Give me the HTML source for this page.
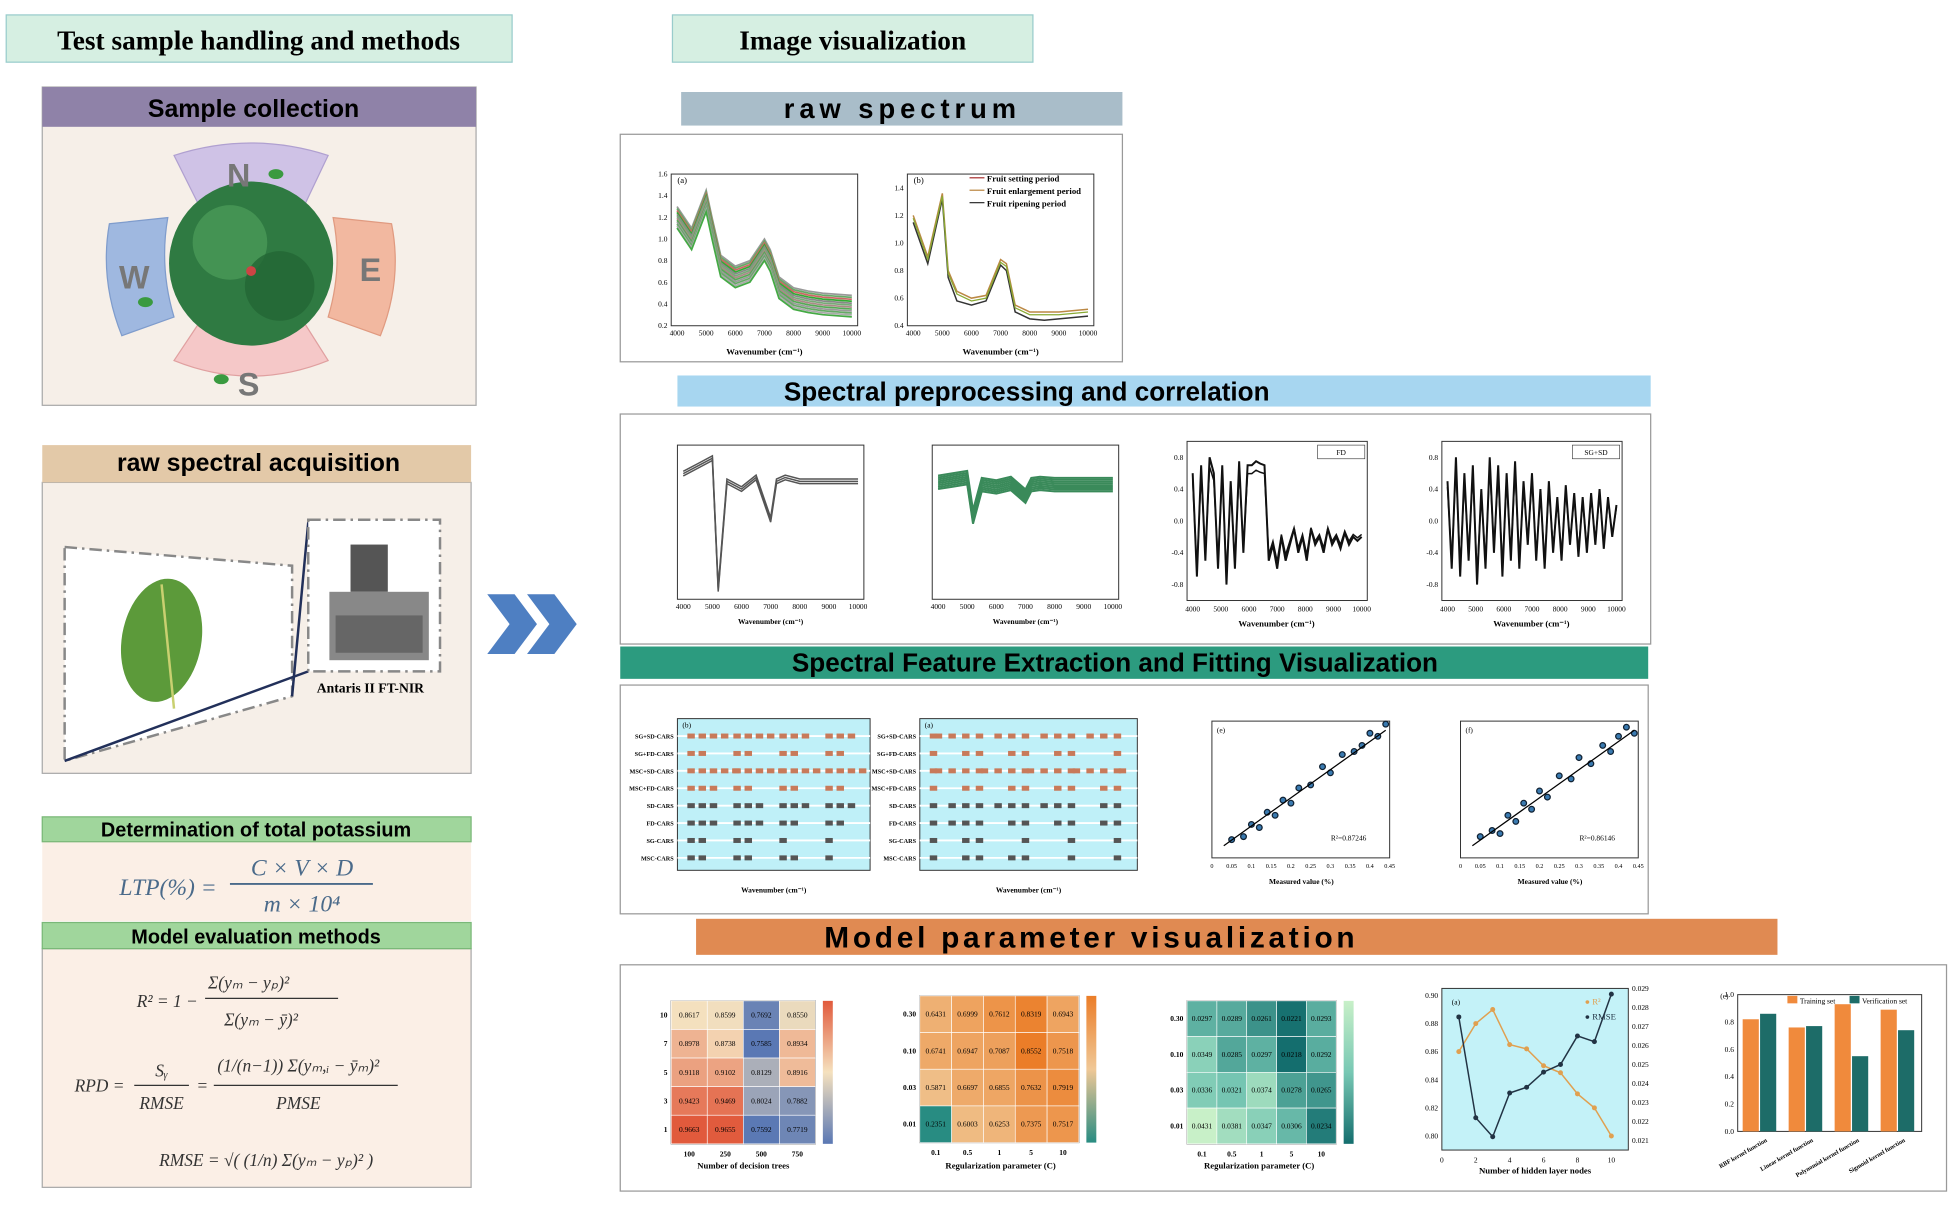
<!DOCTYPE html>
<html><head><meta charset="utf-8"><style>
html,body{margin:0;padding:0;background:#fff;}
svg{display:block;font-family:"Liberation Serif",serif;}
.h{font-family:"Liberation Sans",sans-serif;font-weight:bold;}
</style></head><body>
<svg id="s" width="1949" height="1206" viewBox="0 0 1568 970" preserveAspectRatio="none">
<rect width="1568" height="970" fill="#fff"/>
<g><rect x="5" y="12" width="407" height="38" fill="#d6efe2" stroke="#9cc" stroke-width="1"/><text x="208" y="40" text-anchor="middle" font-size="22" font-weight="bold">Test  sample  handling  and  methods</text></g>
<g><rect x="541" y="12" width="290" height="38" fill="#d6efe2" stroke="#9cc"/><text x="686" y="40" text-anchor="middle" font-size="22" font-weight="bold">Image visualization</text></g>

<g>
<rect x="34" y="70" width="349" height="256" fill="#f6efe8" stroke="#aaa"/>
<rect x="34" y="70" width="349" height="32" fill="#8f82a8"/>
<text class="h" x="204" y="94" text-anchor="middle" font-size="20">Sample collection</text>
<path d="M140 125 Q202 105 264 125 L245 165 Q202 150 160 165Z" fill="#cfc2e6" stroke="#b0a0d0"/>
<path d="M88 180 L135 175 Q128 215 140 255 L98 270 Q80 225 88 180Z" fill="#9fb8e0" stroke="#7f9ccc"/>
<path d="M315 180 L268 175 Q276 215 264 255 L306 270 Q324 225 315 180Z" fill="#f2b8a0" stroke="#e09a80"/>
<path d="M140 290 Q202 315 264 290 L245 260 Q202 272 160 260Z" fill="#f5c8c8" stroke="#e0a0a0"/>
<circle cx="202" cy="212" r="66" fill="#2f7a42"/>
<circle cx="185" cy="195" r="30" fill="#4a9a58" opacity=".8"/><circle cx="225" cy="230" r="28" fill="#236634" opacity=".8"/>
<circle cx="202" cy="218" r="4" fill="#c44"/>
<text class="h" x="192" y="150" text-anchor="middle" font-size="26" fill="#777">N</text>
<text class="h" x="108" y="232" text-anchor="middle" font-size="26" fill="#777">W</text>
<text class="h" x="298" y="226" text-anchor="middle" font-size="26" fill="#777">E</text>
<text class="h" x="200" y="318" text-anchor="middle" font-size="26" fill="#777">S</text>
<ellipse cx="222" cy="140" rx="6" ry="4" fill="#3a9a40"/><ellipse cx="117" cy="243" rx="6" ry="4" fill="#3a9a40"/><ellipse cx="178" cy="305" rx="6" ry="4" fill="#3a9a40"/>
</g>

<g>
<rect x="34" y="388" width="345" height="234" fill="#f6efe8" stroke="#aaa"/>
<rect x="34" y="358" width="345" height="30" fill="#e3c9a8"/>
<text class="h" x="208" y="379" text-anchor="middle" font-size="20">raw spectral acquisition</text>
<polygon points="52,440 235,455 235,560 52,612" fill="#fff" stroke="#888" stroke-dasharray="10,4,2,4" stroke-width="2"/>
<line x1="52" y1="612" x2="248" y2="540" stroke="#22305a" stroke-width="2"/>
<line x1="235" y1="560" x2="248" y2="420" stroke="#22305a" stroke-width="2"/>
<rect x="248" y="418" width="106" height="122" fill="#fff" stroke="#888" stroke-dasharray="10,4,2,4" stroke-width="2"/>
<ellipse cx="130" cy="515" rx="32" ry="50" fill="#5c9a3a" transform="rotate(10 130 515)"/>
<line x1="130" y1="470" x2="140" y2="570" stroke="#c9d070" stroke-width="2"/>
<rect x="282" y="438" width="30" height="38" fill="#555"/><rect x="265" y="476" width="80" height="55" fill="#888"/><rect x="270" y="495" width="70" height="30" fill="#666"/>
<text x="298" y="557" text-anchor="middle" font-size="11" font-weight="bold">Antaris II FT-NIR</text>
</g>

<g>
<polygon points="392,478 414,478 432,502 414,526 392,526 410,502" fill="#4e7fc2"/>
<polygon points="424,478 446,478 464,502 446,526 424,526 442,502" fill="#4e7fc2"/>
</g>

<g>
<rect x="34" y="677" width="345" height="64" fill="#fbefe6"/>
<rect x="34" y="657" width="345" height="20" fill="#a0d69c" stroke="#7ab878"/>
<text class="h" x="206" y="673" text-anchor="middle" font-size="16">Determination of total potassium</text>
<text x="96" y="720" font-size="19" font-style="italic" fill="#4a6a8a">LTP(%) =</text>
<text x="243" y="704" text-anchor="middle" font-size="19" font-style="italic" fill="#4a6a8a">C × V × D</text>
<line x1="185" y1="711" x2="300" y2="711" stroke="#4a6a8a" stroke-width="1.5"/>
<text x="243" y="733" text-anchor="middle" font-size="19" font-style="italic" fill="#4a6a8a">m × 10⁴</text>
</g>
<g>
<rect x="34" y="763" width="345" height="192" fill="#fbefe6" stroke="#aaa"/>
<rect x="34" y="742" width="345" height="21" fill="#a0d69c" stroke="#7ab878"/>
<text class="h" x="206" y="759" text-anchor="middle" font-size="16">Model evaluation methods</text>
<g font-style="italic" font-size="14" fill="#333">
<text x="110" y="810">R² = 1 −</text>
<text x="200" y="795" text-anchor="middle">Σ(yₘ − yₚ)²</text><line x1="165" y1="803" x2="272" y2="803" stroke="#333"/>
<text x="210" y="825" text-anchor="middle">Σ(yₘ − ȳ)²</text>
<text x="60" y="878">RPD =</text>
<text x="130" y="866" text-anchor="middle">Sᵧ</text><line x1="108" y1="873" x2="152" y2="873" stroke="#333"/><text x="130" y="892" text-anchor="middle">RMSE</text>
<text x="158" y="878">=</text>
<text x="240" y="862" text-anchor="middle">(1/(n−1)) Σ(yₘ,ᵢ − ȳₘ)²</text><line x1="172" y1="873" x2="320" y2="873" stroke="#333"/><text x="240" y="892" text-anchor="middle">PMSE</text>
<text x="128" y="938">RMSE = √( (1/n) Σ(yₘ − yₚ)² )</text>
</g></g>

<rect x="499" y="108" width="404" height="183" fill="#fff" stroke="#999"/>
<g><rect x="548" y="74" width="355" height="27" fill="#a9bdc9"/><text class="h" x="726" y="95" text-anchor="middle" font-size="22" letter-spacing="4">raw spectrum</text></g>
<rect x="499" y="333" width="829" height="185" fill="#fff" stroke="#999"/>
<g><rect x="545" y="302" width="783" height="25" fill="#a7d6f0"/><text class="h" x="826" y="322" text-anchor="middle" font-size="21">Spectral preprocessing and correlation</text></g>
<rect x="499" y="551" width="827" height="184" fill="#fff" stroke="#999"/>
<g><rect x="499" y="520" width="827" height="26" fill="#2c9b7f"/><text class="h" x="897" y="540" text-anchor="middle" font-size="21">Spectral Feature Extraction and Fitting Visualization</text></g>
<rect x="499" y="776" width="1067" height="182" fill="#fff" stroke="#999"/>
<g><rect x="560" y="739" width="870" height="29" fill="#e08a52"/><text class="h" x="878" y="762" text-anchor="middle" font-size="24" letter-spacing="3">Model parameter visualization</text></g>
<g id="charts"></g>
</svg>
<script>
const wav=[4000,4500,5000,5200,5500,6000,6500,7000,7200,7500,8000,8500,9000,10000];
const absA=[1.3,1.1,1.45,1.2,0.85,0.75,0.8,1.0,0.9,0.65,0.55,0.52,0.5,0.48];
const absB1=[1.2,0.9,1.36,0.8,0.65,0.6,0.62,0.88,0.85,0.55,0.5,0.5,0.5,0.52];
const absB2=[1.15,0.85,1.32,0.75,0.58,0.55,0.58,0.84,0.8,0.5,0.45,0.44,0.45,0.47];
const fd=[0.002,0.004,0.006,-0.028,0.0,-0.002,0.001,-0.01,0.0,0.001,0.0,0.0,0.0,0.0];
const corrWav=[4000,4150,4300,4450,4600,4750,4900,5050,5200,5350,5500,5650,5800,5950,6100,6250,6400,6550,6700,6850,7000,7150,7300,7450,7600,7750,7900,8050,8200,8350,8500,8650,8800,8950,9100,9250,9400,9550,9700,9850,10000];
const corrFD=[0.6,-0.7,0.7,-0.5,0.8,0.6,-0.6,0.7,-0.8,0.5,-0.6,0.75,-0.4,0.7,0.7,0.75,0.72,0.7,-0.5,-0.3,-0.6,-0.2,-0.5,-0.3,-0.1,-0.4,-0.2,-0.5,-0.1,-0.3,-0.2,-0.4,-0.1,-0.3,-0.2,-0.35,-0.15,-0.3,-0.2,-0.25,-0.2];
const corrSD=[0.5,-0.6,0.8,-0.7,0.6,-0.5,0.7,-0.8,0.4,-0.6,0.8,-0.4,0.7,-0.7,0.6,-0.5,0.75,-0.6,0.5,-0.3,0.6,-0.5,0.4,-0.6,0.5,-0.4,0.3,-0.5,0.45,-0.3,0.35,-0.45,0.3,-0.4,0.35,-0.3,0.4,-0.35,0.3,-0.2,0.2];
const hm1=[[0.8617,0.8599,0.7692,0.855],[0.8978,0.8738,0.7585,0.8934],[0.9118,0.9102,0.8129,0.8916],[0.9423,0.9469,0.8024,0.7882],[0.9663,0.9655,0.7592,0.7719]];
const hm1Cols=['100','250','500','750'];const hm1Rows=['10','7','5','3','1'];
const hm2=[[0.6431,0.6999,0.7612,0.8319,0.6943],[0.6741,0.6947,0.7087,0.8552,0.7518],[0.5871,0.6697,0.6855,0.7632,0.7919],[0.2351,0.6003,0.6253,0.7375,0.7517]];
const hm3=[[0.0297,0.0289,0.0261,0.0221,0.0293],[0.0349,0.0285,0.0297,0.0218,0.0292],[0.0336,0.0321,0.0374,0.0278,0.0265],[0.0431,0.0381,0.0347,0.0306,0.0234]];
const hmCols=['0.1','0.5','1','5','10'];const hmRows=['0.30','0.10','0.03','0.01'];
const nodes=[1,2,3,4,5,6,7,8,9,10];
const r2=[0.86,0.88,0.89,0.865,0.862,0.85,0.845,0.83,0.82,0.80];
const rmse=[0.0275,0.0222,0.0212,0.0235,0.0238,0.0246,0.025,0.0265,0.0262,0.0287];
const kernels=['RBF kernel function','Linear kernel function','Polynomial kernel function','Sigmoid kernel function'];
const trainSet=[0.82,0.76,0.93,0.89];const verifySet=[0.86,0.77,0.55,0.74];
const meas=[0.05,0.08,0.1,0.12,0.14,0.16,0.18,0.2,0.22,0.25,0.28,0.3,0.33,0.36,0.38,0.4,0.42,0.44];
const predC=[0.06,0.07,0.11,0.1,0.15,0.14,0.19,0.18,0.23,0.24,0.3,0.28,0.34,0.35,0.37,0.41,0.4,0.44];
const predF=[0.07,0.09,0.08,0.14,0.12,0.18,0.16,0.22,0.2,0.27,0.26,0.33,0.31,0.37,0.35,0.4,0.43,0.41];
const methods=['SG+SD-CARS','SG+FD-CARS','MSC+SD-CARS','MSC+FD-CARS','SD-CARS','FD-CARS','SG-CARS','MSC-CARS'];
const bandCount=[14,8,18,9,12,10,6,7];
const NS='http://www.w3.org/2000/svg';const G=document.getElementById('charts');
function el(t,a,p){const e=document.createElementNS(NS,t);for(const k in a)e.setAttribute(k,a[k]);(p||G).appendChild(e);return e;}
function txt(x,y,s,size,anchor,p,extra){const e=el('text',Object.assign({x:x,y:y,'font-size':size,'text-anchor':anchor||'middle'},extra||{}),p);e.textContent=s;return e;}
function scale(d0,d1,r0,r1){return v=>r0+(v-d0)/(d1-d0)*(r1-r0);}
function frame(x,y,w,h,name,bg){const g=el('g',{});


el('rect',{x:x,y:y,width:w,height:h,fill:bg||'#fff',stroke:'#333','stroke-width':0.8},g);return g;}
function line(g,xs,ys,sx,sy,col,w){el('polyline',{points:xs.map((v,i)=>sx(v)+','+sy(ys[i])).join(' '),fill:'none',stroke:col,'stroke-width':w||1},g);}
function xticks(g,ticks,sx,y,size){ticks.forEach(t=>txt(sx(t),y,String(t),size||6,'middle',g));}
{const g=frame(540,140,150,122,'raw-spectrum-chart-a');const sx=scale(3800,10200,540,690),sy=scale(0.2,1.6,262,140);
const cols=['#999','#6a6','#c66','#3a3','#888','#7a7','#a88','#5a5','#999','#6a6','#aaa','#4a4'];cols.forEach((c,k)=>line(g,wav,absA.map(v=>v-0.018*k),sx,sy,c,1.4));
xticks(g,[4000,5000,6000,7000,8000,9000,10000],sx,270);[0.2,0.4,0.6,0.8,1.0,1.2,1.4,1.6].forEach(t=>txt(537,sy(t)+2,t.toFixed(1),6,'end',g));
txt(545,147,'(a)',7,'start',g);txt(615,285,'Wavenumber (cm⁻¹)',7,'middle',g,{'font-weight':'bold'});}
{const g=frame(730,140,150,122,'raw-spectrum-chart-b');const sx=scale(3800,10200,730,880),sy=scale(0.4,1.5,262,140);
line(g,wav,absB1,sx,sy,'#b84',1.2);line(g,wav,absB2,sx,sy,'#333',1.2);line(g,wav,absB1.map(v=>v-0.02),sx,sy,'#8a3',1);
xticks(g,[4000,5000,6000,7000,8000,9000,10000],sx,270);[0.4,0.6,0.8,1.0,1.2,1.4].forEach(t=>txt(727,sy(t)+2,t.toFixed(1),6,'end',g));
txt(735,147,'(b)',7,'start',g);txt(805,285,'Wavenumber (cm⁻¹)',7,'middle',g,{'font-weight':'bold'});
['Fruit setting period','Fruit enlargement period','Fruit ripening period'].forEach((s,i)=>{el('line',{x1:780,x2:792,y1:143+i*10,y2:143+i*10,stroke:['#a33','#b84','#333'][i]},g);txt(794,146+i*10,s,7,'start',g,{'font-weight':'bold'});});}
[[545,'preprocess-chart-fd','#555',1],[750,'preprocess-chart-sd','#3a8a5a',3]].forEach(([x0,n,c,amp])=>{const g=frame(x0,358,150,124,n);
const sx=scale(3800,10200,x0,x0+150),sy=scale(-0.03,0.01,482,358);
const nl=amp==1?3:8;for(let k=0;k<nl;k++)line(g,wav,fd.map(v=>v*(amp==1?1:0.3)+k*(amp==1?0.0006:0.0005)-(amp==1?0:0.002)),sx,sy,c,amp==1?1.2:1.6);
xticks(g,[4000,5000,6000,7000,8000,9000,10000],sx,490);txt(x0+75,502,'Wavenumber (cm⁻¹)',6,'middle',g,{'font-weight':'bold'});});
[[955,'correlation-chart-fd','FD',corrFD],[1160,'correlation-chart-sgsd','SG+SD',corrSD]].forEach(([x0,n,lab,dat])=>{const g=frame(x0,355,145,128,n);
const sx=scale(3800,10200,x0,x0+145),sy=scale(-1,1,483,355);
line(g,corrWav,dat,sx,sy,'#111',1.6);line(g,corrWav,dat.map(v=>v*0.85),sx,sy,'#111',1.2);
xticks(g,[4000,5000,6000,7000,8000,9000,10000],sx,492);txt(x0+72,504,'Wavenumber (cm⁻¹)',7,'middle',g,{'font-weight':'bold'});
[-0.8,-0.4,0,0.4,0.8].forEach(t=>txt(x0-3,sy(t)+2,t.toFixed(1),6,'end',g));
el('rect',{x:x0+105,y:358,width:38,height:11,fill:'#fff',stroke:'#333','stroke-width':0.5},g);txt(x0+124,366,lab,6,'middle',g);});
[[545,578,155,'feature-band-chart-b','(b)'],[740,578,175,'feature-band-chart-a','(a)']].forEach(([x0,y0,w,n,lab])=>{const g=frame(x0,y0,w,122,n,'#bff0f8');
methods.forEach((m,i)=>{const y=y0+14+i*14;el('line',{x1:x0,x2:x0+w,y1:y,y2:y,stroke:'#fff','stroke-width':1.5},g);
txt(x0-3,y+2,m,5,'end',g,{'font-weight':'bold'});
for(let j=0;j<bandCount[i];j++)el('rect',{x:x0+8+(j*37%(w-16)),y:y-2,width:6,height:4,fill:i<4?'#c87a5a':'#555'},g);});
txt(x0+4,y0+7,lab,6,'start',g);txt(x0+w/2,y0+140,'Wavenumber (cm⁻¹)',6,'middle',g,{'font-weight':'bold'});});
[[975,'scatter-chart-e',predC,'(e)','R²=0.87246'],[1175,'scatter-chart-f',predF,'(f)','R²=0.86146']].forEach(([x0,n,pred,lab,r])=>{const g=frame(x0,580,143,110,n);
const sx=scale(0,0.45,x0,x0+143),sy=scale(0,0.45,690,580);
meas.forEach((m,i)=>el('circle',{cx:sx(m),cy:sy(pred[i]),r:2.3,fill:'#3a7ab0',stroke:'#123'},g));
el('line',{x1:sx(0.03),y1:sy(0.04),x2:sx(0.44),y2:sy(0.42),stroke:'#000'},g);
xticks(g,[0,0.05,0.1,0.15,0.2,0.25,0.3,0.35,0.4,0.45],sx,698,5);txt(x0+72,711,'Measured value (%)',6,'middle',g,{'font-weight':'bold'});
txt(x0+4,589,lab,6,'start',g);txt(x0+110,676,r,6,'middle',g);});
function heat(x0,y0,w,h,data,cols,rows,color,fmt,n){const g=frame(x0,y0,w,h,n);const cw=w/data[0].length,ch=h/data.length;
const flat=data.flat(),mn=Math.min(...flat),mx=Math.max(...flat);
data.forEach((r,i)=>r.forEach((v,j)=>{const c=el('rect',{x:x0+j*cw,y:y0+i*ch,width:cw,height:ch,fill:color((v-mn)/(mx-mn)),stroke:'#fff','stroke-width':0.5},g);


txt(x0+j*cw+cw/2,y0+i*ch+ch/2+2,v.toFixed(fmt),6,'middle',g);}));
cols.forEach((c,j)=>txt(x0+j*cw+cw/2,y0+h+10,c,6,'middle',g,{'font-weight':'bold'}));rows.forEach((r,i)=>txt(x0-3,y0+i*ch+ch/2+2,r,6,'end',g,{'font-weight':'bold'}));
el('rect',{x:x0+w+6,y:y0,width:8,height:h,fill:'url(#gr'+n+')'},g);
const lg=el('linearGradient',{id:'gr'+n,x1:0,y1:1,x2:0,y2:0},g);[0,0.5,1].forEach(t=>el('stop',{offset:t,'stop-color':color(t)},lg));return g;}
function mix(a,b,t){return 'rgb('+a.map((v,i)=>Math.round(v+(b[i]-v)*t)).join(',')+')';}
function c3(a,b,c){return t=>t<0.5?mix(a,b,t*2):mix(b,c,(t-0.5)*2);}
heat(540,805,116,115,hm1,hm1Cols,hm1Rows,c3([90,120,180],[245,225,190],[225,90,60]),4,'heatmap-random-forest');
txt(598,940,'Number of decision trees',7,'middle',null,{'font-weight':'bold'});
heat(740,801,128,118,hm2,hmCols,hmRows,c3([40,140,130],[240,200,150],[235,125,40]),4,'heatmap-svr-r2');
txt(805,940,'Regularization parameter (C)',7,'middle',null,{'font-weight':'bold'});
heat(955,805,120,115,hm3,hmCols,hmRows,c3([20,110,110],[120,200,180],[200,240,200]),4,'heatmap-svr-rmse');
txt(1013,940,'Regularization parameter (C)',7,'middle',null,{'font-weight':'bold'});
{const g=frame(1160,795,150,130,'hidden-nodes-line-chart','#c4f2f8');const sx=scale(0,11,1160,1310),sy=scale(0.79,0.905,925,795),sy2=scale(0.0205,0.029,925,795);
line(g,nodes,r2,sx,sy,'#e0a050',1.2);nodes.forEach((n,i)=>el('circle',{cx:sx(n),cy:sy(r2[i]),r:2,fill:'#e0a050'},g));
line(g,nodes,rmse,sx,sy2,'#234',1.2);nodes.forEach((n,i)=>el('circle',{cx:sx(n),cy:sy2(rmse[i]),r:2,fill:'#234'},g));
[0,2,4,6,8,10].forEach(t=>txt(sx(t),935,t,6,'middle',g));[0.8,0.82,0.84,0.86,0.88,0.9].forEach(t=>txt(1157,sy(t)+2,t.toFixed(2),6,'end',g));
[0.021,0.022,0.023,0.024,0.025,0.026,0.027,0.028,0.029].forEach(t=>txt(1313,sy2(t)+2,t.toFixed(3),6,'start',g));
txt(1235,944,'Number of hidden layer nodes',7,'middle',g,{'font-weight':'bold'});txt(1168,808,'(a)',6,'start',g);
txt(1275,808,'● R²',7,'start',g,{fill:'#e0a050'});txt(1275,820,'● RMSE',7,'start',g,{fill:'#234'});}
{const g=frame(1398,800,148,110,'kernel-bar-chart');const sy=scale(0,1,910,800),bw=37;
kernels.forEach((k,i)=>{const x=1402+i*bw;
const b1=el('rect',{x:x,y:sy(trainSet[i]),width:13,height:910-sy(trainSet[i]),fill:'#f08a3c'},g);


const b2=el('rect',{x:x+14,y:sy(verifySet[i]),width:13,height:910-sy(verifySet[i]),fill:'#1d6c68'},g);


txt(x+20,918,k,5,'end',g,{transform:'rotate(-30 '+(x+20)+' 918)','font-weight':'bold'});});
[0,0.2,0.4,0.6,0.8,1.0].forEach(t=>txt(1395,sy(t)+2,t.toFixed(1),6,'end',g));
el('rect',{x:1438,y:801,width:8,height:6,fill:'#f08a3c'},g);txt(1448,807,'Training set',6,'start',g);
el('rect',{x:1488,y:801,width:8,height:6,fill:'#1d6c68'},g);txt(1498,807,'Verification set',6,'start',g);txt(1384,803,'(e)',6,'start',g);}
</script>
</body></html>
